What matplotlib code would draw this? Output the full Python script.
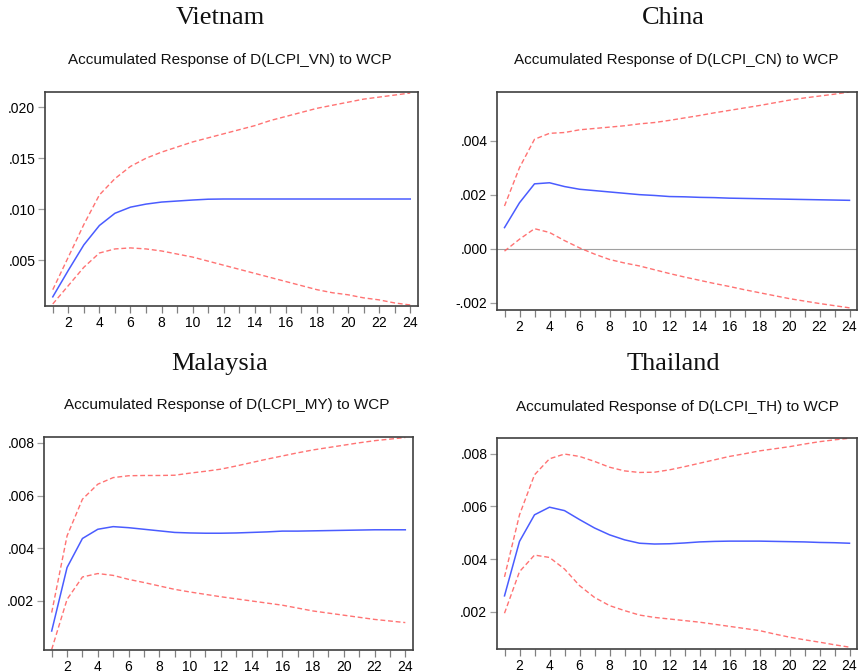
import matplotlib
matplotlib.use("Agg")
import matplotlib.pyplot as plt
from matplotlib.ticker import FuncFormatter, FixedLocator

periods = list(range(1, 25))

countries = ["Vietnam", "China", "Malaysia", "Thailand"]
subtitles = ["Accumulated Response of D(LCPI_VN) to WCP",
             "Accumulated Response of D(LCPI_CN) to WCP",
             "Accumulated Response of D(LCPI_MY) to WCP",
             "Accumulated Response of D(LCPI_TH) to WCP"]

vn_mid = [0.0014, 0.0040, 0.0065, 0.0084, 0.0096, 0.0102, 0.0105, 0.0107, 0.0108, 0.0109, 0.01098, 0.0110,
          0.0110, 0.0110, 0.0110, 0.0110, 0.0110, 0.0110, 0.0110, 0.0110, 0.0110, 0.0110, 0.0110, 0.0110]
vn_up = [0.0021, 0.0053, 0.0085, 0.0114, 0.0130, 0.0142, 0.0150, 0.0156, 0.0161, 0.0166, 0.0170, 0.0174,
         0.0178, 0.0182, 0.0187, 0.0191, 0.0195, 0.0199, 0.0202, 0.0205, 0.0208, 0.0210, 0.0212, 0.0214]
vn_lo = [0.0007, 0.0025, 0.0043, 0.0057, 0.0061, 0.0062, 0.0061, 0.0059, 0.0056, 0.0053, 0.0049, 0.0045,
         0.0041, 0.0037, 0.0033, 0.0029, 0.0025, 0.0021, 0.0018, 0.0016, 0.0013, 0.0011, 0.0008, 0.0006]

cn_mid = [0.00078, 0.0017, 0.0024, 0.00244, 0.0023, 0.0022, 0.00215, 0.0021, 0.00205, 0.0020, 0.00197, 0.00193,
          0.00192, 0.0019, 0.00189, 0.00187, 0.00186, 0.00185, 0.00184, 0.00183, 0.00182, 0.00181, 0.0018, 0.00179]
cn_up = [0.00158, 0.0030, 0.00405, 0.00427, 0.0043, 0.0044, 0.00445, 0.0045, 0.00455, 0.00462, 0.00467, 0.00475,
         0.00484, 0.00493, 0.00503, 0.00512, 0.00521, 0.0053, 0.0054, 0.0055, 0.00558, 0.00565, 0.00572, 0.0058]
cn_lo = [-0.00009, 0.00035, 0.00074, 0.0006, 0.0003, 0.00003, -0.0002, -0.0004, -0.00053, -0.00064, -0.00078, -0.00092,
         -0.00105, -0.00117, -0.00129, -0.0014, -0.00152, -0.00163, -0.00174, -0.00185, -0.00194, -0.00203, -0.00211, -0.00219]

my_mid = [0.00086, 0.00327, 0.00437, 0.00472, 0.00482, 0.00478, 0.00472, 0.00466, 0.0046, 0.00458, 0.00457, 0.00457,
          0.00458, 0.0046, 0.00462, 0.00465, 0.00465, 0.00466, 0.00467, 0.00468, 0.00469, 0.0047, 0.0047, 0.0047]
my_up = [0.00156, 0.00447, 0.00586, 0.00643, 0.00668, 0.00675, 0.00676, 0.00676, 0.00677, 0.00685, 0.00692, 0.007,
         0.00712, 0.00725, 0.00738, 0.0075, 0.00762, 0.00773, 0.00782, 0.00791, 0.008, 0.00808, 0.00814, 0.0082]
my_lo = [0.00016, 0.00206, 0.00291, 0.00304, 0.00297, 0.00282, 0.0027, 0.00257, 0.00244, 0.00234, 0.00225, 0.00216,
         0.00208, 0.002, 0.00192, 0.00184, 0.00173, 0.00162, 0.00154, 0.00146, 0.00138, 0.0013, 0.00124, 0.00118]

th_mid = [0.0026, 0.00467, 0.00568, 0.00597, 0.00584, 0.0055, 0.00518, 0.00492, 0.00473, 0.0046, 0.00457, 0.00458,
          0.00461, 0.00465, 0.00467, 0.00468, 0.00468, 0.00468, 0.00467, 0.00466, 0.00465, 0.00463, 0.00462, 0.0046]
th_up = [0.00332, 0.00568, 0.0072, 0.00781, 0.00799, 0.0079, 0.00771, 0.00749, 0.00735, 0.00729, 0.0073, 0.00739,
         0.00751, 0.00764, 0.00777, 0.0079, 0.008, 0.00811, 0.00819, 0.00827, 0.00837, 0.00846, 0.00853, 0.00859]
th_lo = [0.00194, 0.00352, 0.00415, 0.00406, 0.00362, 0.00299, 0.00254, 0.00223, 0.00204, 0.00187, 0.00178, 0.00172,
         0.00166, 0.0016, 0.00152, 0.00144, 0.00136, 0.00128, 0.00115, 0.00103, 0.00093, 0.00084, 0.00074, 0.00065]

mids = [vn_mid, cn_mid, my_mid, th_mid]
ups = [vn_up, cn_up, my_up, th_up]
los = [vn_lo, cn_lo, my_lo, th_lo]

yticks = [[0.005, 0.010, 0.015, 0.020],
          [-0.002, 0.000, 0.002, 0.004],
          [0.002, 0.004, 0.006, 0.008],
          [0.002, 0.004, 0.006, 0.008]]
ylims = [(0.0005, 0.0215), (-0.00227, 0.0058), (0.00014, 0.00822), (0.00058, 0.0086)]

W, H = 858, 672
# axes boxes in pixels: left, top, right, bottom
boxes = [(45, 92, 418, 306), (497, 92, 857, 310), (44, 437, 413, 650), (497, 438, 857, 649)]
title_pos = [(220, 18), (673, 18), (220, 364), (673, 364)]
sub_pos = [(230, 60), (676, 60), (227, 405), (677, 407)]

fig = plt.figure(figsize=(W / 100, H / 100), dpi=100)
fig.patch.set_facecolor("white")


def fmt(v, pos):
    s = "%.3f" % v
    if s.startswith("-0"):
        s = "-" + s[2:]
    elif s.startswith("0"):
        s = s[1:]
    return s


for i in range(4):
    l, t, r, b = boxes[i]
    ax = fig.add_axes([l / W, 1 - b / H, (r - l) / W, (b - t) / H])
    ax.plot(periods, ups[i], color="#ff5a5a", lw=1.0, ls=(0, (3.5, 2)), alpha=0.85)
    ax.plot(periods, los[i], color="#ff5a5a", lw=1.0, ls=(0, (3.5, 2)), alpha=0.85)
    ax.plot(periods, mids[i], color="#4a5cff", lw=1.1)
    if i == 1:
        ax.axhline(0, color="#a0a0a0", lw=0.8, zorder=0)
    ax.set_xlim(0.5, 24.5)
    ax.set_ylim(*ylims[i])
    ax.xaxis.set_major_locator(FixedLocator(list(range(2, 25, 2))))
    ax.xaxis.set_minor_locator(FixedLocator(list(range(1, 25, 2))))
    ax.set_yticks(yticks[i])
    ax.yaxis.set_major_formatter(FuncFormatter(fmt))
    ax.tick_params(axis="x", which="both", direction="out", length=5, width=0.9, color="#808080",
                   labelsize=10, pad=2)
    ax.tick_params(axis="y", which="major", direction="out", length=5, width=0.9, color="#a0a0a0",
                   labelsize=10, pad=2)
    for lab in ax.get_xticklabels() + ax.get_yticklabels():
        lab.set_fontfamily("Liberation Sans")
    for sp in ax.spines.values():
        sp.set_color("#404040")
        sp.set_linewidth(1.2)
    fig.text(title_pos[i][0] / W, 1 - title_pos[i][1] / H, countries[i], ha="center", va="center",
             fontsize=19, family="Liberation Serif", color="#111111")
    fig.text(sub_pos[i][0] / W, 1 - sub_pos[i][1] / H, subtitles[i], ha="center", va="center",
             fontsize=11, family="Liberation Sans", color="#111111")

fig.savefig("out.png", dpi=100)
